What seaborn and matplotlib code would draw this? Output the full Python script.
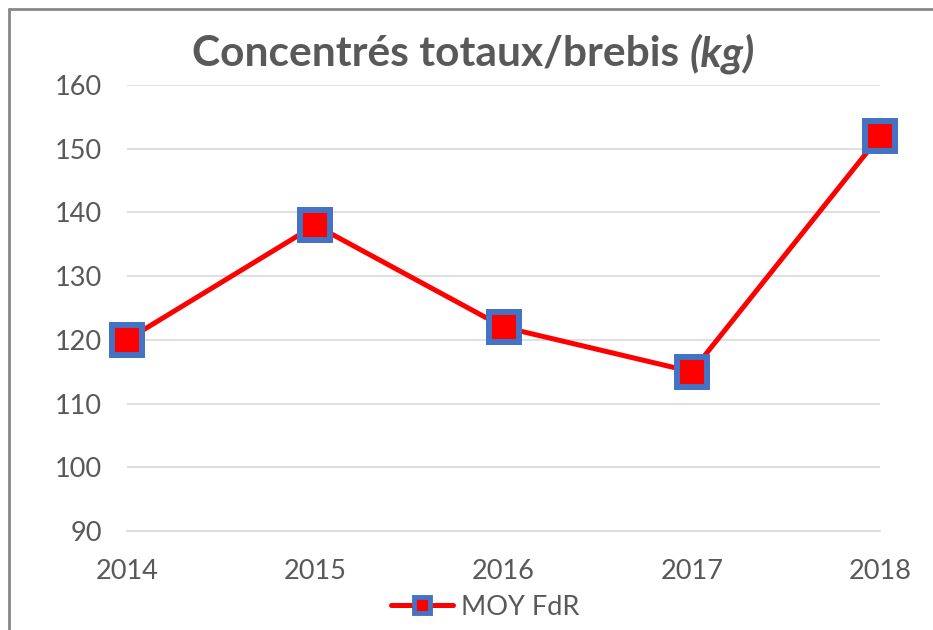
import matplotlib
matplotlib.use("Agg")
from matplotlib import pyplot as plt
from matplotlib.lines import Line2D
import pandas as pd
import seaborn as sb

years = ["2014", "2015", "2016", "2017", "2018"]
moy_fdr = [120, 138, 122, 115, 152]
yticks = [90, 100, 110, 120, 130, 140, 150, 160]
title = "Concentrés totaux/brebis "
unit = "(kg)"
series_name = "MOY FdR"

df = pd.DataFrame({"annee": years, "kg": moy_fdr})

sb.set_style("white")
plt.rcParams["font.family"] = ["Lato", "DejaVu Sans"]

txt = "#595959"
grid = "#D9D9D9"
red = "#FF0000"
blue = "#4472C4"

fig = plt.figure(figsize=(9.33, 6.3), dpi=100)
ax = fig.add_axes([127 / 933, 1 - 531 / 630, (880 - 127) / 933, (531 - 85) / 630])

x = list(range(len(years)))
sb.lineplot(x=x, y=df["kg"], ax=ax, color=red, linewidth=3.6, marker="s",
            markersize=21.6, markerfacecolor=red, markeredgecolor=blue,
            markeredgewidth=4.3, zorder=3)
for l in ax.lines:
    l.set_markeredgecolor(blue)
    l.set_solid_joinstyle("round")
    l.set_clip_on(False)

ax.set_xlim(0, len(years) - 1)
ax.set_ylim(90, 160)
ax.set_yticks(yticks)
ax.set_xticks(x)
ax.set_xticklabels(years)
ax.set_xlabel("")
ax.set_ylabel("")
for y in yticks[1:]:
    ax.axhline(y, color=grid, linewidth=1.2, zorder=1)
for s in ["top", "right", "left"]:
    ax.spines[s].set_visible(False)
ax.spines["bottom"].set_color(grid)
ax.spines["bottom"].set_linewidth(1.2)
ax.tick_params(axis="y", length=0, pad=18, labelsize=19.5, labelcolor=txt)
ax.tick_params(axis="x", direction="inout", length=13, width=1.2, color=grid,
               pad=14, labelsize=19.5, labelcolor=txt)

# title: bold part + bold italic unit, placed side by side
t1 = fig.text(192 / 933, 0.915, title, ha="left", va="center", fontsize=30.6,
              fontweight="bold", color=txt)
fig.canvas.draw()
bb = t1.get_window_extent()
fig.text(bb.x1 / fig.bbox.width, 0.915, unit, ha="left", va="center", fontsize=30.6,
         fontweight="bold", style="italic", color=txt)

h = Line2D([], [], color=red, linewidth=3.6, marker="s", markersize=12,
           markerfacecolor=red, markeredgecolor=blue, markeredgewidth=3.5)
fig.legend([h], [series_name], loc="center", bbox_to_anchor=(0.52, 0.036),
           frameon=False, fontsize=19.5, labelcolor=txt, handlelength=2.3,
           handletextpad=0.3)

# chart frame
fig.add_artist(Line2D([9 / 933, 9 / 933], [0, 1 - 9 / 630], color="#878787",
                      linewidth=2, transform=fig.transFigure))
fig.add_artist(Line2D([9 / 933, 1], [1 - 9 / 630, 1 - 9 / 630], color="#878787",
                      linewidth=2, transform=fig.transFigure))

fig.savefig("out.png", dpi=100)
